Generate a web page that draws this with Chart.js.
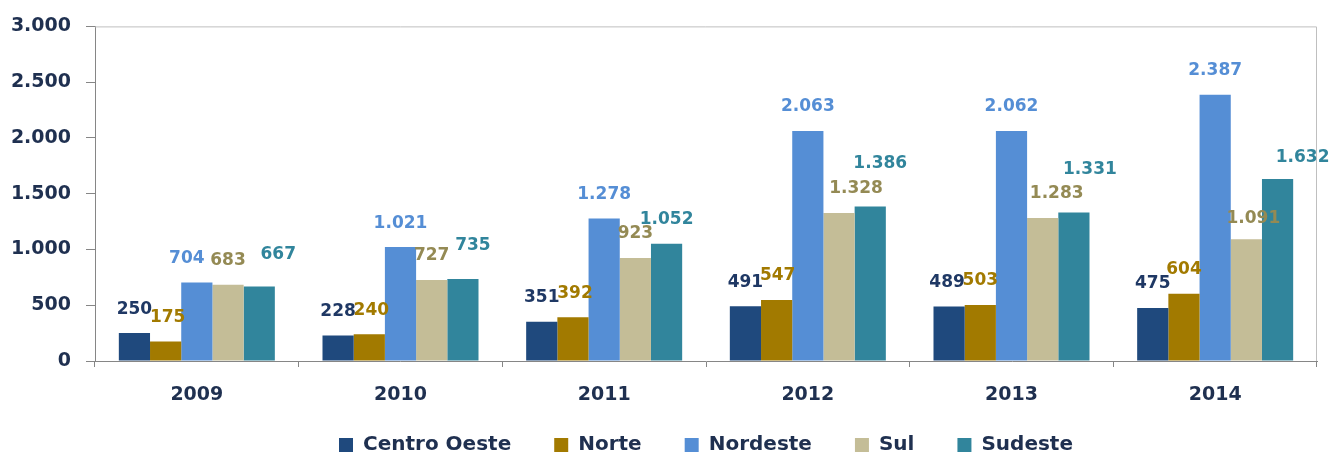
<!DOCTYPE html>
<html><head><meta charset="utf-8">
<script src="https://cdn.jsdelivr.net/npm/chart.js@4.4.1/dist/chart.umd.min.js"></script>
<style>html,body{margin:0;padding:0;background:#fff;} canvas{display:block;}</style>
</head><body>
<canvas id="c" width="1335" height="456"></canvas>
<script>
const categories = ['2009','2010','2011','2012','2013','2014'];
const seriesNames = ['Centro Oeste','Norte','Nordeste','Sul','Sudeste'];
const centroOeste = [250, 228, 351, 491, 489, 475];
const norte       = [175, 240, 392, 547, 503, 604];
const nordeste    = [704, 1021, 1278, 2063, 2062, 2387];
const sul         = [683, 727, 923, 1328, 1283, 1091];
const sudeste     = [667, 735, 1052, 1386, 1331, 1632];
const yTickValues = [0, 500, 1000, 1500, 2000, 2500, 3000];

const barColors   = ['#1F497D', '#A27A00', '#558ED5', '#C4BD97', '#31859C'];
const labelColors = ['#1F3864', '#A27A00', '#558ED5', '#948A54', '#31859C'];
const textColor = '#1F3050';
const FONT = '"DejaVu Sans", Verdana, sans-serif';

function fmt(v){ return String(v).replace(/\B(?=(\d{3})+(?!\d))/g, '.'); }

// label nudges (dx, extra lift) relative to the default spot above each bar
const labelNudge = [
  [[0,0],[0,0],[0,0],[0,0],[-2,0],[0,0]],
  [[2,0],[2,0],[2,0],[1,0],[0,0],[0,0]],
  [[-10,0],[0,0],[0,0],[0,0],[0,0],[0,0]],
  [[0,0],[0,0],[0,0],[17,0],[14,0],[7,-3]],
  [[19,8],[10,9],[0,0],[10,19],[16,19],[25,-3]]
];

const seriesData = [centroOeste, norte, nordeste, sul, sudeste];

const valueLabels = {
  id: 'valueLabels',
  afterDatasetsDraw(chart) {
    const ctx = chart.ctx;
    ctx.save();
    ctx.font = 'bold 17px ' + FONT;
    ctx.textAlign = 'center';
    ctx.textBaseline = 'middle';
    chart.data.datasets.forEach((ds, i) => {
      const meta = chart.getDatasetMeta(i);
      meta.data.forEach((bar, j) => {
        const n = labelNudge[i][j] || [0,0];
        ctx.fillStyle = labelColors[i];
        ctx.fillText(fmt(ds.data[j]), bar.x + n[0], bar.y - 24 - n[1]);
      });
    });
    ctx.restore();
  }
};

const frame = {
  id: 'frame',
  beforeDatasetsDraw(chart) {
    const {ctx, chartArea: a} = chart;
    ctx.save();
    ctx.strokeStyle = '#BFBFBF';
    ctx.lineWidth = 1;
    ctx.beginPath();
    ctx.moveTo(a.left, a.top + 0.5);
    ctx.lineTo(a.right - 0.5, a.top + 0.5);
    ctx.lineTo(a.right - 0.5, a.bottom);
    ctx.stroke();
    ctx.restore();
  }
};

const legendFix = {
  id: 'legendFix',
  afterInit(chart) {
    const lg = chart.legend;
    if (lg && !lg._patched) {
      const orig = lg.fit;
      lg.fit = function(){ orig.call(this); this.height = 45; };
      lg._patched = true;
    }
  },
  afterLayout(chart) {
    const lg = chart.legend;
    if (lg) {
      lg.top = chart.height - 64;
      lg.bottom = chart.height;
      lg.height = lg.bottom - lg.top;
    }
  }
};

new Chart(document.getElementById('c'), {
  type: 'bar',
  data: {
    labels: categories,
    datasets: seriesNames.map((name, i) => ({
      label: name,
      data: seriesData[i],
      backgroundColor: barColors[i],
      borderWidth: 0,
      categoryPercentage: 0.766,
      barPercentage: 1.0
    }))
  },
  options: {
    responsive: false,
    animation: false,
    layout: { padding: { top: 22, right: 18, left: 0, bottom: 0 } },
    plugins: {
      legend: {
        position: 'bottom',
        fullSize: false,
        labels: {
          boxWidth: 14, boxHeight: 14, padding: 43,
          color: textColor,
          font: { family: FONT, size: 20, weight: 'bold' }
        }
      },
      tooltip: { enabled: false }
    },
    scales: {
      x: {
        grid: { drawOnChartArea: false, offset: true, tickLength: 6, color: '#868686' },
        border: { color: '#868686', width: 1 },
        ticks: { color: textColor, padding: 17, font: { family: FONT, size: 19, weight: 'bold' } },
        afterFit(s){ s.height = 50; }
      },
      y: {
        min: 0, max: 3000,
        afterBuildTicks(s){ s.ticks = yTickValues.map(v => ({value: v})); },
        grid: { drawOnChartArea: false, tickLength: 9, color: '#868686' },
        border: { color: '#868686', width: 1 },
        ticks: { color: textColor, padding: 15, font: { family: FONT, size: 19, weight: 'bold' },
                 callback: v => fmt(v) },
        afterFit(s){ s.width = 95; }
      }
    }
  },
  plugins: [valueLabels, frame, legendFix]
});
</script>
</body></html>
